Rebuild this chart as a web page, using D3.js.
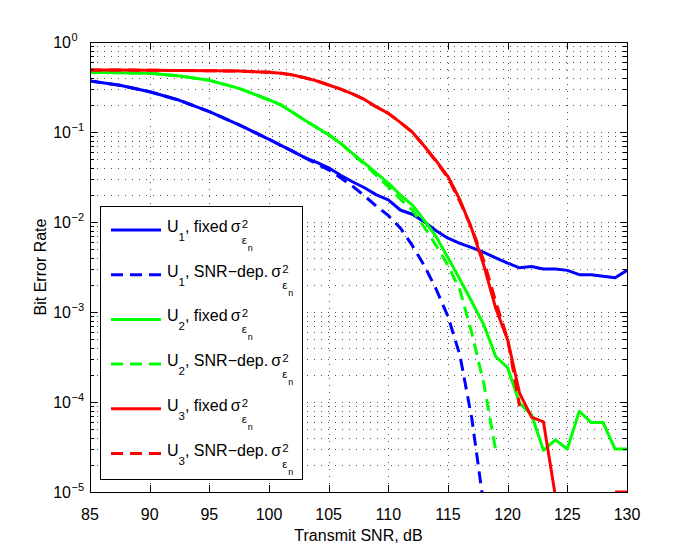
<!DOCTYPE html>
<html>
<head>
<meta charset="utf-8">
<script src="https://cdn.jsdelivr.net/npm/d3@7"></script>
<style>
  body { margin: 0; background: #fff; }
  text { font-family: "Liberation Sans", Arial, Helvetica, sans-serif; fill: #000; }
</style>
</head>
<body>
<div id="chart"></div>
<script>
// values (BER per transmit SNR in dB)
var snrFixed = [85, 87.5, 90, 92.5, 95, 97.5, 100, 101, 102, 103, 104, 105, 106, 107, 108, 109, 110,
  111, 112, 113, 114, 115, 116, 117, 118, 119, 120, 121, 122, 123, 124, 125, 126, 127, 128, 129, 130];

var berU1Fixed = [0.37, 0.33, 0.28, 0.225, 0.168, 0.12, 0.083, 0.071, 0.061, 0.052, 0.046, 0.040, 0.033,
  0.028, 0.024, 0.020, 0.0176, 0.0136, 0.0122, 0.0101, 0.0080, 0.0066, 0.0058, 0.0052, 0.0046, 0.0040,
  0.0035, 0.0031, 0.0032, 0.0030, 0.0030, 0.0029, 0.0026, 0.0026, 0.0025, 0.0024, 0.0029];

var berU2Fixed = [0.46, 0.455, 0.45, 0.42, 0.375, 0.305, 0.227, 0.20, 0.165, 0.135, 0.112, 0.093, 0.075,
  0.058, 0.045, 0.035, 0.027, 0.020, 0.0155, 0.0105, 0.0069, 0.0040, 0.0023, 0.0013, 0.00072, 0.00032,
  0.00024, 0.000097, 0.000072, 0.000029, 0.000038, 0.000030, 0.000079, 0.000059, 0.000059, 0.000030, 0.000030];

// zeros are points with no errors: not drawn on the log axis
var berU3Fixed = [0.49, 0.488, 0.485, 0.482, 0.48, 0.475, 0.46, 0.45, 0.43, 0.40, 0.37, 0.333, 0.30,
  0.265, 0.23, 0.19, 0.161, 0.128, 0.100, 0.070, 0.048, 0.032, 0.0176, 0.0083, 0.0033, 0.00110,
  0.00049, 0.000125, 0.000068, 0.000060, 0.000009, 0, 0, 0, 0, 0.00001, 0.00001];

var snrU1Dep = [85, 87.5, 90, 92.5, 95, 97.5, 100, 101, 102, 103, 104, 105, 106, 107, 108, 109, 110,
  111, 112, 113, 114, 115, 116, 117, 118];
var berU1Dep = [0.37, 0.33, 0.28, 0.225, 0.168, 0.12, 0.083, 0.071, 0.061, 0.052, 0.044, 0.038, 0.031,
  0.025, 0.0195, 0.0150, 0.0118, 0.0086, 0.0055, 0.0033, 0.0018, 0.00089, 0.00033, 0.000065, 0.000007];

var snrU2Dep = [85, 87.5, 90, 92.5, 95, 97.5, 100, 101, 102, 103, 104, 105, 106, 107, 108, 109, 110,
  111, 112, 113, 114, 115, 116, 117, 118, 119];
var berU2Dep = [0.46, 0.455, 0.45, 0.42, 0.375, 0.305, 0.227, 0.20, 0.165, 0.135, 0.112, 0.093, 0.075,
  0.057, 0.044, 0.033, 0.0247, 0.018, 0.0136, 0.0088, 0.0055, 0.0033, 0.00175, 0.00058, 0.00016, 0.000029];

var snrU3Dep = [85, 87.5, 90, 92.5, 95, 97.5, 100, 101, 102, 103, 104, 105, 106, 107, 108, 109, 110,
  111, 112, 113, 114, 115, 116, 117, 118, 119, 120, 121];
var berU3Dep = [0.49, 0.488, 0.485, 0.482, 0.48, 0.475, 0.46, 0.45, 0.43, 0.40, 0.37, 0.333, 0.30,
  0.265, 0.23, 0.19, 0.161, 0.128, 0.100, 0.070, 0.047, 0.031, 0.0168, 0.0085, 0.0037, 0.0013,
  0.00050, 0.00009];

var xTicks = [85, 90, 95, 100, 105, 110, 115, 120, 125, 130];
var yExponents = [0, -1, -2, -3, -4, -5];

var series = [
  { user: "1", kind: "fixed", snr: snrFixed, ber: berU1Fixed, colour: "#0000ff", dashed: false },
  { user: "1", kind: "dep", snr: snrU1Dep, ber: berU1Dep, colour: "#0000ff", dashed: true },
  { user: "2", kind: "fixed", snr: snrFixed, ber: berU2Fixed, colour: "#00ff00", dashed: false },
  { user: "2", kind: "dep", snr: snrU2Dep, ber: berU2Dep, colour: "#00ff00", dashed: true },
  { user: "3", kind: "fixed", snr: snrFixed, ber: berU3Fixed, colour: "#ff0000", dashed: false },
  { user: "3", kind: "dep", snr: snrU3Dep, ber: berU3Dep, colour: "#ff0000", dashed: true }
];

var width = 692;
var height = 554;
const margin = { top: 42, right: 65, bottom: 62, left: 90 };
var dash = "12,7";

var svg = d3.select("#chart")
  .append("svg")
  .attr("width", width)
  .attr("height", height);

svg.append("rect").attr("width", width).attr("height", height).attr("fill", "#fff");

var x = d3.scaleLinear()
  .domain([85, 130])
  .range([margin.left, width - margin.right]);

var y = d3.scaleLog()
  .domain([1e-5, 1])
  .range([height - margin.bottom, margin.top]);

var x0 = x.range()[0], x1 = x.range()[1];
var yb = y.range()[0], yt = y.range()[1];

// minor log ticks 2..9 per decade
var minorVals = [];
yExponents.forEach(function (e) {
  if (e === 0) return;
  for (var k = 2; k <= 9; k++) minorVals.push(k * Math.pow(10, e));
});
var majorVals = yExponents.map(e => Math.pow(10, e));

// dotted grid
var grid = svg.append("g")
  .attr("stroke", "#555")
  .attr("stroke-width", 1)
  .attr("stroke-dasharray", "1,6")
  .attr("shape-rendering", "crispEdges");

grid.selectAll("line.gx")
  .data(xTicks.slice(1, -1))
  .enter().append("line")
  .attr("class", "gx")
  .attr("x1", d => Math.round(x(d)) + 0.5).attr("x2", d => Math.round(x(d)) + 0.5)
  .attr("y1", yt).attr("y2", yb);

grid.selectAll("line.gy")
  .data(minorVals.concat(majorVals.slice(1, -1)))
  .enter().append("line")
  .attr("class", "gy")
  .attr("x1", x0).attr("x2", x1)
  .attr("y1", d => Math.round(y(d)) + 0.5).attr("y2", d => Math.round(y(d)) + 0.5);

// curves
svg.append("clipPath").attr("id", "plotClip")
  .append("rect")
  .attr("x", x0).attr("y", yt)
  .attr("width", x1 - x0).attr("height", yb - yt);

var line = d3.line()
  .defined(d => d[1] > 0)
  .x(d => x(d[0]))
  .y(d => y(d[1]));

svg.append("g")
  .attr("clip-path", "url(#plotClip)")
  .selectAll("path")
  .data(series)
  .enter().append("path")
  .attr("fill", "none")
  .attr("stroke", d => d.colour)
  .attr("stroke-width", 3)
  .attr("stroke-linejoin", "round")
  .attr("stroke-dasharray", d => d.dashed ? dash : null)
  .attr("d", d => line(d.snr.map((s, i) => [s, d.ber[i]])));

// axes box with inward ticks on all four sides
var axes = svg.append("g")
  .attr("stroke", "#000")
  .attr("stroke-width", 1)
  .attr("shape-rendering", "crispEdges");

axes.append("rect")
  .attr("x", x0 + 0.5).attr("y", yt + 0.5)
  .attr("width", x1 - x0).attr("height", yb - yt)
  .attr("fill", "none");

xTicks.forEach(function (t) {
  var px = Math.round(x(t)) + 0.5;
  axes.append("line").attr("x1", px).attr("x2", px).attr("y1", yb).attr("y2", yb - 7);
  axes.append("line").attr("x1", px).attr("x2", px).attr("y1", yt).attr("y2", yt + 7);
});

majorVals.forEach(function (v) {
  var py = Math.round(y(v)) + 0.5;
  axes.append("line").attr("x1", x0).attr("x2", x0 + 7).attr("y1", py).attr("y2", py);
  axes.append("line").attr("x1", x1).attr("x2", x1 - 7).attr("y1", py).attr("y2", py);
});

minorVals.forEach(function (v) {
  var py = Math.round(y(v)) + 0.5;
  axes.append("line").attr("x1", x0).attr("x2", x0 + 4).attr("y1", py).attr("y2", py);
  axes.append("line").attr("x1", x1).attr("x2", x1 - 4).attr("y1", py).attr("y2", py);
});

// tick labels
svg.selectAll("text.xtick")
  .data(xTicks)
  .enter().append("text")
  .attr("class", "xtick")
  .attr("x", d => x(d))
  .attr("y", yb + 28)
  .attr("text-anchor", "middle")
  .style("font-size", "16px")
  .text(d => d);

yExponents.forEach(function (e) {
  var py = y(Math.pow(10, e));
  svg.append("text")
    .attr("x", 71).attr("y", py + 5.5)
    .attr("text-anchor", "end")
    .style("font-size", "16px")
    .text("10");
  svg.append("text")
    .attr("x", 71.5).attr("y", py - 1.5)
    .style("font-size", "11px")
    .text(e === 0 ? "0" : "\u2212" + (-e));
});

// axis titles
svg.append("text")
  .attr("x", (x0 + x1) / 2)
  .attr("y", 541)
  .attr("text-anchor", "middle")
  .style("font-size", "16px")
  .text("Transmit SNR, dB");

svg.append("text")
  .attr("transform", "translate(46," + ((yt + yb) / 2) + ") rotate(-90)")
  .attr("text-anchor", "middle")
  .style("font-size", "16px")
  .text("Bit Error Rate");

// legend
var legend = svg.append("g");

legend.append("rect")
  .attr("x", 100.5).attr("y", 206.5)
  .attr("width", 202).attr("height", 273)
  .attr("fill", "#fff")
  .attr("stroke", "#000")
  .attr("stroke-width", 1)
  .attr("shape-rendering", "crispEdges");

series.forEach(function (s, i) {
  var ly = 230 + i * 44.7;
  var base = ly + 2;

  legend.append("line")
    .attr("x1", 111).attr("x2", 161)
    .attr("y1", ly).attr("y2", ly)
    .attr("stroke", s.colour)
    .attr("stroke-width", 3)
    .attr("stroke-dasharray", s.dashed ? dash : null);

  var label = legend.append("text")
    .attr("x", 167).attr("y", base)
    .style("font-size", "16px");
  label.append("tspan").text("U");
  label.append("tspan").attr("dy", 9).style("font-size", "11.5px").text(s.user);
  label.append("tspan").attr("dy", -9)
    .text(s.kind === "fixed" ? ", fixed\u2009\u03c3" : ", SNR\u2212dep.\u2009\u03c3");

  var xe = 167 + label.node().getComputedTextLength() + 1;

  legend.append("text")
    .attr("x", xe).attr("y", base - 4)
    .style("font-size", "11.5px")
    .text("2");
  legend.append("text")
    .attr("x", xe).attr("y", base + 12)
    .style("font-size", "11.5px")
    .text("\u03b5");
  legend.append("text")
    .attr("x", xe + 6).attr("y", base + 19)
    .style("font-size", "9px")
    .text("n");
});
</script>
</body>
</html>
